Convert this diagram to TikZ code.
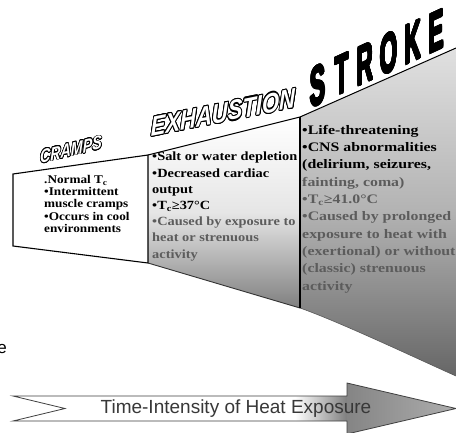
\documentclass[tikz,border=0pt]{standalone}
\usepackage{fontspec}
\setmainfont{Liberation Serif}
\newfontfamily\sansfont{Liberation Sans}
\usepackage{contour}
\contourlength{0.8pt}
\definecolor{fade}{gray}{0.36}
\begin{document}
\begin{tikzpicture}[x=1pt,y=1pt,
  bodytext/.style={anchor=north west, inner sep=0pt, align=left},
  outhead/.style={inner sep=0pt, text=white},
  strokeletter/.style={inner sep=0pt, text=black, yslant=0.46, xscale=0.41,
     font=\sansfont\bfseries\fontsize{55}{55}\selectfont}]
\useasboundingbox (0,0) rectangle (456,-432);
\fill[white] (0,0) rectangle (456,-432);

% main funnel points
\coordinate (A) at (13,-174);
\coordinate (B) at (148,-155);
\coordinate (E) at (300,-117);
\coordinate (G) at (456,-48);
\coordinate (D) at (13,-246);
\coordinate (C) at (148,-263);
\coordinate (F) at (300,-308);
\coordinate (H) at (456,-376);

% stroke region
\shade[top color=black!12, bottom color=black!60, middle color=black!30]
  (E) -- (G) -- (H) .. controls (420,-360) and (340,-322) .. (F) -- cycle;
% exhaustion region
\shade[top color=white, bottom color=black!50, middle color=black!10]
  (B) -- (E) -- (F) -- (C) -- cycle;
% cramps box
\draw[line width=1.1pt, fill=white] (A) -- (B) -- (C) -- (D) -- cycle;
% edges
\draw[line width=1pt] (B) -- (E) -- (G);
\draw[line width=0.9pt, black!80] (C) -- (F);
\draw[line width=0.6pt, black!65] (F) .. controls (340,-322) and (420,-360) .. (H);
\draw[line width=1.3pt] (E) -- (F);

% headings
\begin{scope}[shift={(71,-150)}]
  \node[outhead, yslant=0.24, xscale=0.75,
    font=\sansfont\bfseries\itshape\fontsize{19}{19}\selectfont] (cr) at (0,0)
    {\contourlength{0.9pt}\contour{black}{CRAMPS}};
\end{scope}
\begin{scope}[shift={(223,-113)}]
  \node[outhead, yslant=0.2, xscale=0.8,
    font=\sansfont\bfseries\itshape\fontsize{27.5}{27.5}\selectfont] (ex) at (0,0)
    {\contourlength{1.1pt}\contour{black}{EXHAUSTION}};
\end{scope}
\foreach \ch [count=\i from 0] in {S,T,R,O,K,E}{
  \begin{scope}[shift={({318+23.7*\i},{-86+10.8*\i})}]
    \node[strokeletter] (st\i) at (0,0) {\contourlength{1.3pt}\contour{black}{\ch}};
  \end{scope}
}

% texts
\begin{scope}[shift={(44,-175)}]
  \node[bodytext, xscale=1.12, font=\bfseries\fontsize{11.8}{12.3}\selectfont] (ctext) at (0,0)
  {.Normal T\textsubscript{c}\\ •Intermittent\\ muscle cramps\\ •Occurs in cool\\ environments};
\end{scope}
\begin{scope}[shift={(152,-152)}]
  \node[bodytext, xscale=1.15, font=\bfseries\fontsize{12.5}{16.2}\selectfont] (etext) at (0,0)
  {•Salt or water depletion\\ •Decreased cardiac\\ output\\ •T\textsubscript{c}≥37°C\\
   \textcolor{fade}{•Caused by exposure to}\\ \textcolor{fade}{heat or strenuous}\\
   \textcolor{fade}{activity}};
\end{scope}
\begin{scope}[shift={(302,-125)}]
  \node[bodytext, xscale=1.22, font=\bfseries\fontsize{13}{17.3}\selectfont] (stext) at (0,0)
  {•Life-threatening\\ •CNS abnormalities\\ (delirium, seizures,\\
   \textcolor{fade}{fainting, coma)}\\ \textcolor{fade}{•T\textsubscript{c}≥41.0°C}\\
   \textcolor{fade}{•Caused by prolonged}\\ \textcolor{fade}{exposure to heat with}\\
   \textcolor{fade}{(exertional) or without}\\ \textcolor{fade}{(classic) strenuous}\\
   \textcolor{fade}{activity}};
\end{scope}

% bottom arrow
\coordinate (t1) at (13,-396);
\coordinate (nt) at (65,-408.5);
\coordinate (t2) at (13,-421);
\coordinate (b1) at (347,-421);
\coordinate (b2) at (347,-434);
\coordinate (atip) at (456,-408.5);
\coordinate (h1) at (347,-383);
\coordinate (h2) at (347,-396);
\begin{scope}
  \clip (t1) -- (h2) -- (h1) -- (atip) -- (b2) -- (b1) -- (t2) -- (nt) -- cycle;
  \fill[white] (0,-370) rectangle (300,-440);
  \shade[left color=white, right color=black!50] (295,-370) rectangle (347,-440);
  \shade[left color=black!48, right color=black!32] (347,-370) rectangle (456,-440);
\end{scope}
\draw[line width=0.8pt, black!75] (t1) -- (h2) -- (h1) -- (atip) -- (b2) -- (b1) -- (t2) -- (nt) -- cycle;
\node[font=\sansfont\fontsize{19}{19}\selectfont, text=black!78] (tl) at (236,-409)
  {Time-Intensity of Heat Exposure};

% fragment at left edge
\node[font=\sansfont\fontsize{17}{17}\selectfont, anchor=base east, inner sep=0pt] (ef) at (7,-353) {e};
\end{tikzpicture}
\end{document}
